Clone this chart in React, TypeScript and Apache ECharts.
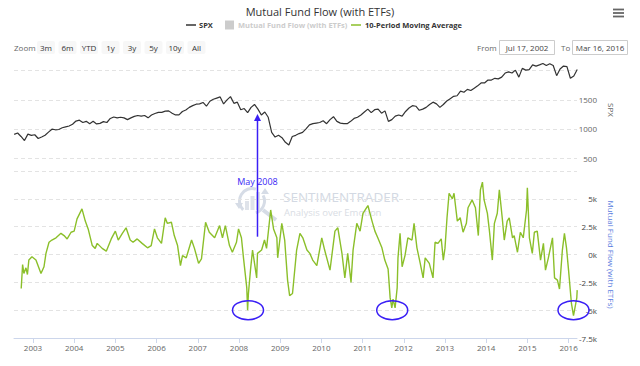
import React, { useEffect, useRef } from "react";
import * as echarts from "echarts";

// ---------- data ----------
const rangeStartYear = 2002.54; // Jul 17, 2002
const rangeEndYear = 2016.205; // Mar 16, 2016
const rangeStartLabel = "Jul 17, 2002";
const rangeEndLabel = "Mar 16, 2016";

// SPX, one value per month from Jul 2002 to Mar 2016 (around the 17th)
const spxFirstYear = 2002;
const spxFirstMonth = 6; // July (0-based)
const spxValues = [
  906, 930, 870, 800, 910, 890,
  900, 835, 860, 890, 945, 995, 985, 990, 1020, 1035, 1050, 1080,
  1135, 1150, 1110, 1130, 1090, 1130, 1085, 1095, 1125, 1110, 1180, 1205,
  1190, 1200, 1190, 1160, 1190, 1215, 1230, 1220, 1230, 1190, 1240, 1265,
  1285, 1285, 1305, 1310, 1270, 1240, 1240, 1300, 1325, 1370, 1400, 1425,
  1430, 1455, 1390, 1475, 1510, 1530, 1550, 1430, 1500, 1555, 1440, 1460,
  1330, 1350, 1280, 1370, 1420, 1340, 1240, 1290, 1200, 940, 860, 890,
  850, 770, 725, 870, 890, 920, 940, 1000, 1070, 1090, 1100, 1110,
  1140, 1090, 1160, 1210, 1130, 1100, 1090, 1090, 1130, 1180, 1200, 1240,
  1290, 1340, 1280, 1330, 1340, 1270, 1310, 1130, 1160, 1220, 1240, 1220,
  1300, 1360, 1400, 1390, 1320, 1340, 1370, 1420, 1460, 1430, 1370, 1420,
  1480, 1520, 1560, 1570, 1650, 1630, 1680, 1660, 1700, 1740, 1790, 1790,
  1840, 1840, 1870, 1860, 1890, 1960, 1980, 1960, 2010, 1890, 2040, 2010,
  2020, 2100, 2080, 2100, 2125, 2090, 2120, 2090, 1915, 2030, 2080, 2070,
  1870, 1910, 2020,
];

// 10-period moving average of mutual fund flow (thousands), dated in decimal years
const flowYears = [
  2002.715, 2002.749, 2002.78, 2002.83, 2002.866, 2002.9, 2002.976, 2003.073, 2003.195, 2003.268,
  2003.316, 2003.39, 2003.46, 2003.56, 2003.68, 2003.755, 2003.83, 2003.925, 2004.0, 2004.07,
  2004.19, 2004.27, 2004.34, 2004.44, 2004.51, 2004.56, 2004.68, 2004.78, 2004.9, 2005.0,
  2005.07, 2005.17, 2005.26, 2005.36, 2005.43, 2005.53, 2005.65, 2005.78, 2005.87, 2005.95,
  2006.02, 2006.12, 2006.21, 2006.26, 2006.36, 2006.43, 2006.51, 2006.58, 2006.63, 2006.72,
  2006.85, 2006.92, 2007.02, 2007.09, 2007.19, 2007.28, 2007.41, 2007.53, 2007.6, 2007.67,
  2007.77, 2007.84, 2007.94, 2007.99, 2008.06, 2008.11, 2008.19, 2008.21, 2008.23, 2008.28,
  2008.33, 2008.43, 2008.45, 2008.55, 2008.62, 2008.67, 2008.77, 2008.84, 2008.92, 2008.94,
  2009.04, 2009.11, 2009.18, 2009.23, 2009.3, 2009.4, 2009.48, 2009.55, 2009.65, 2009.72,
  2009.79, 2009.89, 2010.01, 2010.08, 2010.21, 2010.33, 2010.4, 2010.5, 2010.57, 2010.64,
  2010.72, 2010.77, 2010.86, 2010.94, 2011.01, 2011.13, 2011.23, 2011.3, 2011.37, 2011.47,
  2011.54, 2011.62, 2011.67, 2011.71, 2011.74, 2011.79, 2011.84, 2011.86, 2011.91, 2011.96,
  2012.03, 2012.1, 2012.2, 2012.25, 2012.32, 2012.4, 2012.47, 2012.52, 2012.62, 2012.71,
  2012.76, 2012.83, 2012.91, 2012.96, 2013.0, 2013.05, 2013.1, 2013.18, 2013.22, 2013.3,
  2013.37, 2013.44, 2013.52, 2013.56, 2013.66, 2013.74, 2013.81, 2013.86, 2013.91, 2013.95,
  2014.03, 2014.08, 2014.15, 2014.2, 2014.27, 2014.32, 2014.39, 2014.44, 2014.51, 2014.56,
  2014.64, 2014.68, 2014.76, 2014.83, 2014.9, 2014.98, 2015.0, 2015.05, 2015.12, 2015.17,
  2015.24, 2015.32, 2015.39, 2015.44, 2015.51, 2015.61, 2015.66, 2015.73, 2015.78, 2015.85,
  2015.9, 2015.95, 2016.0, 2016.07, 2016.12, 2016.2, 2016.21,
];
const flowValues = [
  -3.06, -0.9, -1.7, -1.2, -1.8, -0.5, -0.2, -0.5, -1.7, -1.1,
  0.1, 1.1, 1.3, 1.5, 1.9, 1.7, 1.4, 2.0, 2.1, 3.2,
  4.1, 3.0, 2.3, 0.8, 0.55, 1.0, 0.55, 0.3, 1.4, 2.1,
  1.3, 1.9, 2.4, 1.3, 1.1, 1.4, 1.0, 0.6, 0.8, 2.3,
  1.5, 1.0, 3.3, 2.8, 2.9, 1.7, 0.8, -1.0, -0.1, -0.3,
  1.3, 0.55, -0.8, -0.4, 2.9, 2.0, 1.5, 2.6, 1.5, 2.6,
  0.8, 0.2, 1.1, 2.3, 1.5, -0.3, -3.0, -5.0, -3.5, -1.4,
  0.4, -2.1, 0.1, 0.4, 1.3, 0.55, 4.0, 2.3, 1.5, -0.3,
  2.8, 1.3, -2.3, -3.7, -3.5, 0.4, 1.9, 1.5, 0.4, 0.1,
  -0.5, -1.0, 1.5, 0.4, -1.4, 2.1, 2.4, 0.1, -2.1, 0.1,
  -2.5, 0.4, 2.8, 2.1, 3.7, 4.4, 3.0, 2.1, 1.5, 0.6,
  -0.5, -1.3, -3.9, -4.8, -4.0, -4.8, -3.0, -0.3, 1.9, -1.1,
  -0.1, 1.5, 1.3, 2.8, 0.6, -0.8, -2.1, -0.3, -0.8, -2.1,
  1.1, 1.0, 1.4, -0.5, 0.55, 3.3, 5.5, 5.0, 5.5, 3.0,
  3.3, 2.0, 2.8, 4.2, 4.9, 4.2, 1.7, 5.8, 6.5, 4.9,
  3.7, 2.1, -0.5, 2.8, 3.7, 5.8, 3.3, 1.3, 3.0, 3.3,
  1.5, 1.7, 0.2, 2.0, 1.5, 4.0, 6.0, 1.5, 0.1, 2.0,
  2.1, -0.5, 1.0, -1.4, -0.3, 1.5, -2.1, -2.3, -3.1, 0.4,
  1.9, 0.6, -1.4, -4.4, -5.5, -3.9, -3.2,
];

const yearTicks = [2003, 2004, 2005, 2006, 2007, 2008, 2009, 2010, 2011, 2012, 2013, 2014, 2015, 2016];
const zoomButtons = ["3m", "6m", "YTD", "1y", "3y", "5y", "10y", "All"];

// annotations (in data terms)
const arrowYear = 2008.45;
const arrowLabel = "May 2008";
const arrowTopSpx = 1255;
const arrowBottomFlow = 1.6;
const arrowLabelFlow = 6.6;
const circledYears = [2008.22, 2011.72, 2016.12];
const circledFlow = -5.0;

const FONT = "'Open Sans', 'Noto Sans', sans-serif";
const BLUE = "#3a1ff5";

export default function App() {
  const ref = useRef<HTMLDivElement>(null);
  useEffect(() => {
    document.body.style.margin = "0";
    if (!ref.current) return;
    const chart = echarts.init(ref.current, undefined, { renderer: "svg" });

    const spxData = spxValues.map((v, i) => [
      spxFirstYear + (spxFirstMonth + i + 0.53) / 12,
      v,
    ]);
    const flowData = flowYears.map((t, i) => [t, flowValues[i]]);

    const staticGraphics: any[] = [];
    // legend
    staticGraphics.push(
      { type: "line", shape: { x1: 186, y1: 25, x2: 196, y2: 25 }, style: { stroke: "#333", lineWidth: 1.5 } },
      { type: "text", x: 199, y: 25, style: { text: "SPX", fill: "#333", font: `bold 7.5px ${FONT}`, verticalAlign: "middle" } },
      { type: "rect", shape: { x: 225, y: 20.5, width: 9, height: 9 }, style: { fill: "#cccccc" } },
      { type: "text", x: 238, y: 25, style: { text: "Mutual Fund Flow (with ETFs)", fill: "#cccccc", font: `bold 7.5px ${FONT}`, verticalAlign: "middle" } },
      { type: "line", shape: { x1: 351, y1: 25, x2: 361, y2: 25 }, style: { stroke: "#8bbf2a", lineWidth: 1.5 } },
      { type: "text", x: 365, y: 25, style: { text: "10-Period Moving Average", fill: "#333", font: `bold 7.5px ${FONT}`, verticalAlign: "middle" } }
    );
    // zoom row
    staticGraphics.push({ type: "text", x: 14, y: 47, style: { text: "Zoom", fill: "#666", font: `8px ${FONT}`, verticalAlign: "middle" } });
    zoomButtons.forEach((b, i) => {
      const x = 37 + i * 21.5;
      staticGraphics.push(
        { type: "rect", shape: { x, y: 41, width: 18, height: 13, r: 2 }, style: { fill: "#f7f7f7" } },
        { type: "text", x: x + 9, y: 47.5, style: { text: b, fill: "#333", font: `8px ${FONT}`, align: "center", verticalAlign: "middle" } }
      );
    });
    staticGraphics.push(
      { type: "text", x: 477, y: 47, style: { text: "From", fill: "#666", font: `8px ${FONT}`, verticalAlign: "middle" } },
      { type: "rect", shape: { x: 499.5, y: 40.5, width: 55, height: 14 }, style: { fill: "#fff", stroke: "#cccccc", lineWidth: 1 } },
      { type: "text", x: 527, y: 47.5, style: { text: rangeStartLabel, fill: "#444", font: `8px ${FONT}`, align: "center", verticalAlign: "middle" } },
      { type: "text", x: 561, y: 47, style: { text: "To", fill: "#666", font: `8px ${FONT}`, verticalAlign: "middle" } },
      { type: "rect", shape: { x: 572.5, y: 40.5, width: 55, height: 14 }, style: { fill: "#fff", stroke: "#cccccc", lineWidth: 1 } },
      { type: "text", x: 600, y: 47.5, style: { text: rangeEndLabel, fill: "#444", font: `8px ${FONT}`, align: "center", verticalAlign: "middle" } }
    );
    // menu icon
    [9.5, 13, 16.5].forEach((y) =>
      staticGraphics.push({ type: "line", shape: { x1: 613, y1: y, x2: 624, y2: y }, style: { stroke: "#666", lineWidth: 1.8 } })
    );
    // watermark
    const wm = "#d6dce6";
    staticGraphics.push({
      type: "group",
      silent: true,
      children: [
        { type: "arc", shape: { cx: 252, cy: 201, r: 12.5, startAngle: Math.PI * 0.75, endAngle: Math.PI * 1.6 }, style: { stroke: wm, lineWidth: 3, fill: "none" } },
        { type: "arc", shape: { cx: 252, cy: 201, r: 12.5, startAngle: Math.PI * 1.85, endAngle: Math.PI * 2.4 }, style: { stroke: wm, lineWidth: 3, fill: "none" } },
        { type: "polygon", shape: { points: [[235, 203], [243, 203], [239, 209]] }, style: { fill: wm } },
        { type: "polygon", shape: { points: [[261, 194], [269, 194], [265, 188]] }, style: { fill: wm } },
        { type: "rect", shape: { x: 245, y: 201, width: 4, height: 9 }, style: { fill: "#dfe3ea" } },
        { type: "rect", shape: { x: 250.5, y: 196, width: 4, height: 14 }, style: { fill: "#dfe3ea" } },
        { type: "rect", shape: { x: 256, y: 192, width: 4, height: 18 }, style: { fill: "#dfe3ea" } },
        { type: "line", shape: { x1: 263, y1: 210, x2: 276, y2: 220 }, style: { stroke: wm, lineWidth: 4 } },
        { type: "text", x: 283, y: 196.5, style: { text: "SENTIMENTRADER", fill: "#d3d9e3", font: `13.5px ${FONT}`, verticalAlign: "middle" } },
        { type: "text", x: 284, y: 212.5, style: { text: "Analysis over Emotion", fill: "#d9dde4", font: `9.5px ${FONT}`, verticalAlign: "middle" } },
      ],
    });

    const option: any = {
      animation: false,
      title: {
        text: "Mutual Fund Flow (with ETFs)",
        left: "center",
        top: 1,
        textStyle: { fontSize: 11, fontWeight: "normal", color: "#333", fontFamily: FONT },
      },
      grid: [
        { left: 14, right: 63, top: 62, height: 96 },
        { left: 14, right: 63, top: 171, height: 167 },
      ],
      xAxis: [
        { type: "value", gridIndex: 0, min: rangeStartYear, max: rangeEndYear, show: false, splitLine: { show: false } },
        {
          type: "value",
          gridIndex: 1,
          min: rangeStartYear,
          max: rangeEndYear,
          axisLine: { onZero: false, lineStyle: { color: "#ccd6eb" } },
          axisTick: { show: true, length: 5, lineStyle: { color: "#ccd6eb" }, customValues: yearTicks },
          axisLabel: {
            customValues: yearTicks,
            formatter: (v: number) => String(Math.round(v)),
            color: "#666",
            fontSize: 8,
            fontFamily: FONT,
            margin: 5,
          },
          splitLine: { show: false },
        },
      ],
      yAxis: [
        {
          type: "value",
          gridIndex: 0,
          position: "right",
          min: 500,
          max: 2150,
          interval: 500,
          axisLine: { show: false },
          axisTick: { show: false },
          splitLine: { showMaxLine: false, lineStyle: { color: "#e3e3e3", type: [4, 3] } },
          axisLabel: {
            color: "#666",
            fontSize: 8,
            fontFamily: FONT,
            align: "right",
            margin: 20,
            showMaxLabel: false,
            formatter: (v: number) => (v >= 2000 ? "" : String(v)),
          },
          name: "SPX",
          nameLocation: "middle",
          nameRotate: -90,
          nameGap: 26,
          nameTextStyle: { color: "#666", fontSize: 8, fontFamily: FONT },
        },
        {
          type: "value",
          gridIndex: 1,
          position: "right",
          min: -7.5,
          max: 7.5,
          interval: 2.5,
          axisLine: { show: false },
          axisTick: { show: false },
          splitLine: { lineStyle: { color: "#e3e3e3", type: [4, 3] } },
          axisLabel: {
            color: "#444",
            fontSize: 8,
            fontFamily: FONT,
            align: "right",
            margin: 20,
            showMaxLabel: false,
            formatter: (v: number) => `${v}k`,
          },
          name: "Mutual Fund Flow (with ETFs)",
          nameLocation: "middle",
          nameRotate: -90,
          nameGap: 28,
          nameTextStyle: { color: "#5a7de0", fontSize: 8, fontFamily: FONT },
        },
      ],
      series: [
        {
          type: "line",
          name: "SPX",
          xAxisIndex: 0,
          yAxisIndex: 0,
          data: spxData,
          showSymbol: false,
          lineStyle: { color: "#333", width: 1.2 },
          z: 3,
        },
        {
          type: "line",
          name: "10-Period Moving Average",
          xAxisIndex: 1,
          yAxisIndex: 1,
          data: flowData,
          showSymbol: false,
          lineStyle: { color: "#8bbf2a", width: 1.4 },
          z: 3,
        },
      ],
      graphic: staticGraphics,
    };
    chart.setOption(option);

    // annotations placed through the axes' scales
    const [aX, aTop] = chart.convertToPixel({ gridIndex: 0 }, [arrowYear, arrowTopSpx]) as number[];
    const [, aBottom] = chart.convertToPixel({ gridIndex: 1 }, [arrowYear, arrowBottomFlow]) as number[];
    const [, aLabel] = chart.convertToPixel({ gridIndex: 1 }, [arrowYear, arrowLabelFlow]) as number[];
    const ann: any[] = [
      { type: "line", z: 10, shape: { x1: aX, y1: aBottom, x2: aX, y2: aTop + 5 }, style: { stroke: BLUE, lineWidth: 1.5 } },
      { type: "polygon", z: 10, shape: { points: [[aX - 3.5, aTop + 7], [aX + 3.5, aTop + 7], [aX, aTop]] }, style: { fill: BLUE } },
      { type: "text", z: 9, x: aX, y: aLabel, style: { text: arrowLabel, fill: BLUE, font: `9px ${FONT}`, align: "center", verticalAlign: "middle" } },
    ];
    circledYears.forEach((t) => {
      const [cx, cy] = chart.convertToPixel({ gridIndex: 1 }, [t, circledFlow]) as number[];
      ann.push({ type: "ellipse", z: 10, shape: { cx, cy, rx: 15.5, ry: 9.5 }, style: { fill: "none", stroke: BLUE, lineWidth: 1.5 } });
    });
    chart.setOption({ graphic: [...staticGraphics, ...ann] });

    return () => chart.dispose();
  }, []);
  return <div ref={ref} style={{ width: 640, height: 366 }} />;
}
